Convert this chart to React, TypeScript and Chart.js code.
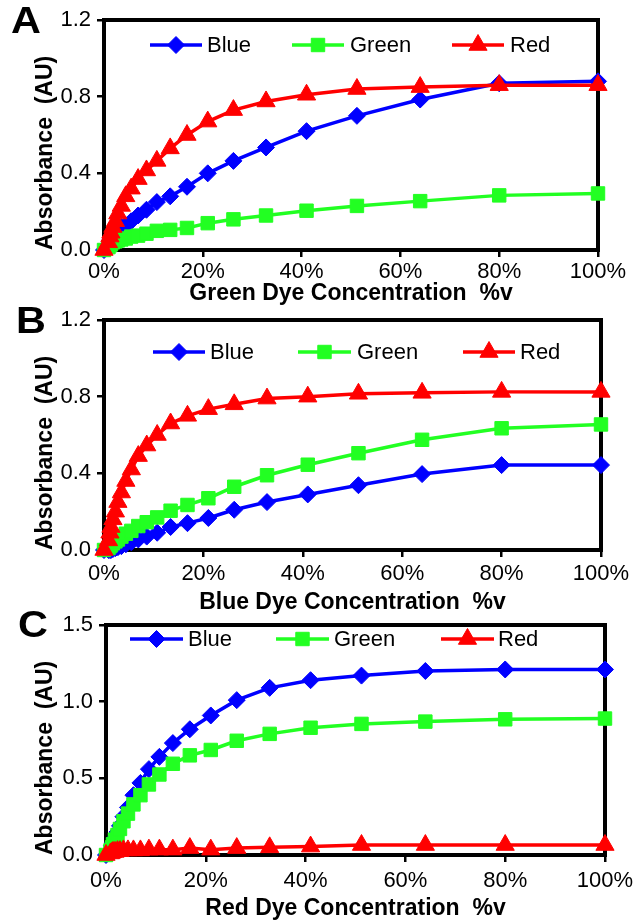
import React, { useEffect, useRef } from 'react';
import { Chart, registerables } from 'chart.js';

Chart.register(...registerables);

// ---------- DATA ----------
const concentrations = [0, 0.9, 1.2, 1.4, 1.8, 2.3, 2.8, 3.5, 4.4, 5.5, 6.9, 8.6, 10.7, 13.4, 16.8, 21.0, 26.2, 32.8, 41.0, 51.2, 64.0, 80.0, 100];

// Panel A: Green dye concentration
const blueA = [0, 0.03, 0.05, 0.06, 0.08, 0.1, 0.11, 0.12, 0.13, 0.15, 0.18, 0.21, 0.25, 0.28, 0.33, 0.4, 0.465, 0.535, 0.62, 0.7, 0.785, 0.87, 0.88];
const greenA = [0, 0.015, 0.025, 0.03, 0.04, 0.045, 0.05, 0.055, 0.06, 0.07, 0.075, 0.085, 0.1, 0.105, 0.115, 0.14, 0.16, 0.18, 0.205, 0.23, 0.255, 0.285, 0.295];
const redA = [0, 0.04, 0.07, 0.09, 0.12, 0.15, 0.19, 0.23, 0.28, 0.32, 0.37, 0.415, 0.465, 0.53, 0.6, 0.67, 0.73, 0.775, 0.81, 0.84, 0.85, 0.86, 0.86];

// Panel B: Blue dye concentration
const blueB = [0, 0, 0, 0, 0.005, 0.01, 0.015, 0.02, 0.03, 0.04, 0.055, 0.07, 0.09, 0.12, 0.14, 0.167, 0.21, 0.25, 0.29, 0.338, 0.396, 0.443, 0.443];
const greenB = [0, 0.01, 0.02, 0.025, 0.035, 0.045, 0.055, 0.07, 0.085, 0.1, 0.125, 0.145, 0.17, 0.205, 0.235, 0.27, 0.33, 0.39, 0.445, 0.505, 0.575, 0.635, 0.655];
const redB = [0, 0.05, 0.09, 0.12, 0.16, 0.2, 0.25, 0.3, 0.36, 0.42, 0.49, 0.545, 0.6, 0.66, 0.7, 0.735, 0.76, 0.79, 0.8, 0.815, 0.82, 0.825, 0.825];

// Panel C: Red dye concentration
const blueC = [0, 0.03, 0.06, 0.08, 0.11, 0.15, 0.19, 0.25, 0.31, 0.39, 0.47, 0.56, 0.64, 0.73, 0.82, 0.91, 1.01, 1.09, 1.14, 1.17, 1.2, 1.21, 1.21];
const greenC = [0, 0.03, 0.05, 0.07, 0.1, 0.13, 0.17, 0.22, 0.27, 0.33, 0.39, 0.46, 0.525, 0.595, 0.65, 0.685, 0.745, 0.79, 0.83, 0.855, 0.87, 0.885, 0.89];
const redC = [0, 0.01, 0.015, 0.02, 0.02, 0.025, 0.025, 0.03, 0.03, 0.03, 0.03, 0.035, 0.035, 0.035, 0.045, 0.035, 0.045, 0.05, 0.055, 0.065, 0.065, 0.065, 0.065];

const seriesLabels = ['Blue', 'Green', 'Red'];
const panelLetters = ['A', 'B', 'C'];
const xTitles = ['Green Dye Concentration  %v', 'Blue Dye Concentration  %v', 'Red Dye Concentration  %v'];
const yTitle = 'Absorbance  (AU)';
const yMaxes = [1.2, 1.2, 1.5];
const ySteps = [0.4, 0.4, 0.5];

// ---------- STYLE ----------
const FONT = "'Liberation Sans', Arial, Helvetica, sans-serif";
const BLUE = '#0000ff';
const GREEN = '#22ff22';
const RED = '#ff0000';
const COLORS = [BLUE, GREEN, RED];
const SHAPES = ['rectRot', 'rect', 'triangle'];
const RADII = [8.5, 9.5, 10.5];
const LINE_W = 3.5;

type Layout = {
  canvasTop: number;
  height: number;
  chartTop: number;
  chartBottom: number;
  chartLeft: number;
  chartRight: number;
  tickPad: number;
  legendY: number;
  legend: { x0: number; x1: number; tx: number }[];
  letterTop: number;
  letterLeft: number;
};

const layouts: Layout[] = [
  {
    canvasTop: 0, height: 307, chartTop: 20, chartBottom: 250, chartLeft: 104, chartRight: 598, tickPad: 2,
    legendY: 45,
    legend: [{ x0: 150, x1: 202, tx: 207 }, { x0: 292, x1: 344, tx: 350 }, { x0: 452, x1: 504, tx: 510 }],
    letterTop: 3, letterLeft: 11,
  },
  {
    canvasTop: 290, height: 326, chartTop: 30, chartBottom: 260, chartLeft: 104, chartRight: 601, tickPad: 4,
    legendY: 62,
    legend: [{ x0: 153, x1: 205, tx: 210 }, { x0: 298, x1: 351, tx: 357 }, { x0: 463, x1: 515, tx: 520 }],
    letterTop: 303, letterLeft: 16,
  },
  {
    canvasTop: 595, height: 327, chartTop: 30, chartBottom: 260, chartLeft: 106, chartRight: 605, tickPad: 6,
    legendY: 44,
    legend: [{ x0: 130, x1: 183, tx: 188 }, { x0: 276, x1: 329, tx: 334 }, { x0: 441, x1: 494, tx: 498 }],
    letterTop: 607, letterLeft: 18,
  },
];

function drawShape(ctx: CanvasRenderingContext2D, shape: string, x: number, y: number, r: number, color: string) {
  ctx.save();
  ctx.fillStyle = color;
  ctx.strokeStyle = color;
  ctx.lineWidth = 1;
  ctx.beginPath();
  if (shape === 'rectRot') {
    ctx.moveTo(x, y - r);
    ctx.lineTo(x + r, y);
    ctx.lineTo(x, y + r);
    ctx.lineTo(x - r, y);
  } else if (shape === 'rect') {
    const s = r * Math.SQRT1_2;
    ctx.rect(x - s, y - s, 2 * s, 2 * s);
  } else {
    let a = 0;
    ctx.moveTo(x + Math.sin(a) * r, y - Math.cos(a) * r);
    a += (2 * Math.PI) / 3;
    ctx.lineTo(x + Math.sin(a) * r, y - Math.cos(a) * r);
    a += (2 * Math.PI) / 3;
    ctx.lineTo(x + Math.sin(a) * r, y - Math.cos(a) * r);
  }
  ctx.closePath();
  ctx.fill();
  ctx.stroke();
  ctx.restore();
}

function Panel({ index, series }: { index: number; series: number[][] }) {
  const ref = useRef<HTMLCanvasElement | null>(null);
  const L = layouts[index];

  useEffect(() => {
    if (!ref.current) return;
    const framePlugin = {
      id: 'frame' + index,
      beforeDatasetsDraw(chart: any) {
        const { ctx, chartArea } = chart;
        ctx.save();
        ctx.strokeStyle = '#000';
        ctx.lineWidth = 4;
        ctx.strokeRect(chartArea.left, chartArea.top, chartArea.right - chartArea.left, chartArea.bottom - chartArea.top);
        ctx.restore();
      },
    };
    const legendPlugin = {
      id: 'legend' + index,
      afterDraw(chart: any) {
        const ctx: CanvasRenderingContext2D = chart.ctx;
        ctx.save();
        L.legend.forEach((it, k) => {
          ctx.strokeStyle = COLORS[k];
          ctx.lineWidth = LINE_W;
          ctx.beginPath();
          ctx.moveTo(it.x0, L.legendY);
          ctx.lineTo(it.x1, L.legendY);
          ctx.stroke();
          drawShape(ctx, SHAPES[k], (it.x0 + it.x1) / 2, L.legendY, RADII[k], COLORS[k]);
          ctx.fillStyle = '#000';
          ctx.font = `22px ${FONT}`;
          ctx.textBaseline = 'middle';
          ctx.textAlign = 'left';
          ctx.fillText(seriesLabels[k], it.tx, L.legendY + 1);
        });
        ctx.restore();
      },
    };

    const datasets = series.map((vals, k) => ({
      label: seriesLabels[k],
      data: concentrations.map((x, i) => ({ x, y: vals[i] })),
      borderColor: COLORS[k],
      backgroundColor: COLORS[k],
      pointBackgroundColor: COLORS[k],
      pointBorderColor: COLORS[k],
      pointStyle: SHAPES[k],
      pointRadius: RADII[k],
      pointBorderWidth: 1,
      borderWidth: LINE_W,
      tension: 0,
      clip: false,
      order: 2 - k,
    }));

    const chart = new Chart(ref.current, {
      type: 'line',
      data: { datasets },
      options: {
        animation: false,
        responsive: false,
        maintainAspectRatio: false,
        devicePixelRatio: 1,
        layout: { padding: { left: 0, top: L.chartTop, right: 642 - L.chartRight, bottom: 0 } },
        plugins: { legend: { display: false }, tooltip: { enabled: false }, title: { display: false } },
        scales: {
          x: {
            type: 'linear',
            min: 0,
            max: 100,
            afterFit: (s: any) => { s.height = L.height - L.chartBottom; },
            ticks: {
              stepSize: 20,
              color: '#000',
              padding: L.tickPad,
              font: { family: FONT, size: 22 },
              callback: (v: any) => `${v}%`,
              maxRotation: 0,
            },
            grid: { display: true, drawOnChartArea: false, drawTicks: true, tickLength: 7, color: '#000', lineWidth: 2.5 },
            border: { display: false },
            title: {
              display: true,
              text: xTitles[index],
              color: '#000',
              font: { family: FONT, size: 23, weight: 'bold' },
              padding: { top: 0, bottom: 0 },
            },
          },
          y: {
            type: 'linear',
            min: 0,
            max: yMaxes[index],
            afterFit: (s: any) => { s.width = L.chartLeft; },
            ticks: {
              stepSize: ySteps[index],
              color: '#000',
              padding: 6,
              font: { family: FONT, size: 22 },
              callback: (v: any) => Number(v).toFixed(1),
            },
            grid: { display: true, drawOnChartArea: false, drawTicks: true, tickLength: 7, color: '#000', lineWidth: 2.5 },
            border: { display: false },
            title: {
              display: true,
              text: yTitle,
              align: 'start',
              color: '#000',
              font: { family: FONT, size: 23, weight: 'bold' },
              padding: { top: 32, bottom: 0 },
            },
          },
        },
      } as any,
      plugins: [framePlugin, legendPlugin],
    });
    return () => chart.destroy();
  }, [index, series]);

  return (
    <>
      <canvas
        ref={ref}
        width={642}
        height={L.height}
        style={{ position: 'absolute', left: 0, top: L.canvasTop, width: 642, height: L.height }}
      />
      <div
        style={{
          position: 'absolute',
          left: L.letterLeft,
          top: L.letterTop,
          font: `bold 36px ${FONT}`,
          lineHeight: '36px',
          color: '#000',
          transform: 'scaleX(1.15)',
          transformOrigin: 'left top',
        }}
      >
        {panelLetters[index]}
      </div>
    </>
  );
}

const panelSeries = [
  [blueA, greenA, redA],
  [blueB, greenB, redB],
  [blueC, greenC, redC],
];

export default function App() {
  return (
    <div style={{ position: 'absolute', left: 0, top: 0, width: 642, height: 922, background: '#fff', overflow: 'hidden' }}>
      {panelSeries.map((s, i) => (
        <Panel key={i} index={i} series={s} />
      ))}
    </div>
  );
}
